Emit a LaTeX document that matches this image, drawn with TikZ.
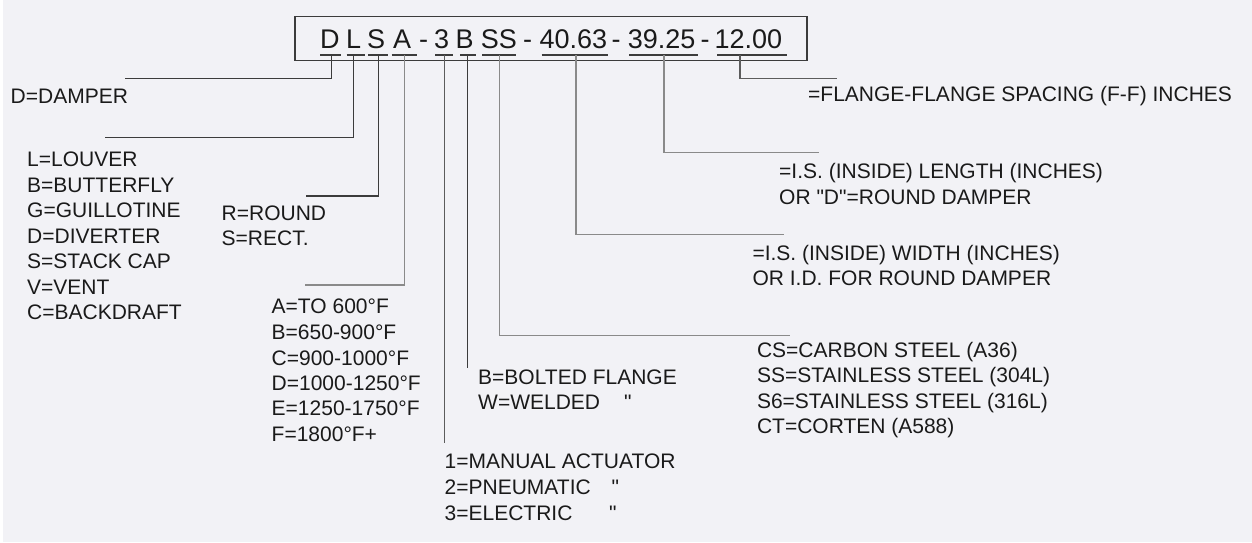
\documentclass[tikz,border=0pt]{standalone}
\usepackage{fontspec}
\setmainfont{Liberation Sans}[Ligatures=TeXOff]
\definecolor{bg}{HTML}{F2F2F6}
\definecolor{txt}{HTML}{1A1A1A}
\definecolor{lnd}{HTML}{3C3C3C}
\definecolor{lnm}{HTML}{5C5C5C}
\definecolor{lng}{HTML}{8A8A8A}
\newcommand{\dq}{\char34\relax}
\begin{document}
\begin{tikzpicture}[x=1pt,y=-1pt,
  lbl/.style={anchor=base west, inner sep=0pt, text=txt, font=\fontsize{21}{25}\selectfont},
  code/.style={anchor=base west, inner sep=0pt, text=txt, font=\fontsize{27}{30}\selectfont},
  dk/.style={draw=lnd, line width=1.3pt},
  md/.style={draw=lnm, line width=1.3pt},
  gy/.style={draw=lng, line width=1.3pt},
  uline/.style={draw=lnd, line width=1.2pt}]
\fill[white] (0,0) rectangle (1252,542);
\fill[bg] (3,0) rectangle (1252,542);
\useasboundingbox (0,0) rectangle (1252,542);

% code box
\draw[draw=lnd, line width=1.2pt] (295,16.8) rectangle (807,60.7);
\node[code] (cD)  at (320,48)   {D};
\node[code] (cL)  at (346,48)   {L};
\node[code] (cS)  at (367,48)   {S};
\node[code] (cA)  at (393,48)   {A};
\node[code] (h1)  at (419,48)   {-};
\node[code] (c3)  at (434,48)   {3};
\node[code] (cB)  at (455.3,48) {B};
\node[code] (cSS) at (480.7,48) {SS};
\node[code] (h2)  at (523,48)   {-};
\node[code] (cW)  at (539.3,48) {40.63};
\node[code] (h3)  at (611.4,48) {-};
\node[code] (cLn) at (627.7,48) {39.25};
\node[code] (h4)  at (700.3,48) {-};
\node[code] (cF)  at (714.4,48) {12.00};

% underlines
\draw[uline] (320,55)--(340.7,55);
\draw[uline] (346.7,55)--(365,55);
\draw[uline] (368.3,55)--(388.3,55);
\draw[uline] (391.7,55)--(417.3,55);
\draw[uline] (435,55)--(453.3,55);
\draw[uline] (460,55)--(475.7,55);
\draw[uline] (482.3,55)--(516,55);
\draw[uline] (541.7,55)--(607.7,55);
\draw[uline] (629.3,55)--(697.7,55);
\draw[uline] (717.3,55)--(786.7,55);

% connector start points
\coordinate (tD)  at (331.7,55);
\coordinate (tL)  at (353.3,55);
\coordinate (tS)  at (378.7,55);
\coordinate (tA)  at (404.3,55);
\coordinate (t3)  at (444.3,55);
\coordinate (tB)  at (467.3,55);
\coordinate (tSS) at (499.3,55);
\coordinate (tW)  at (576,55);
\coordinate (tLn) at (664,55);
\coordinate (tF)  at (740,55);
% connector end points
\coordinate (eD)  at (125,78.3);
\coordinate (eL)  at (105,137.3);
\coordinate (eS)  at (306,196);
\coordinate (eA)  at (305,285);
\coordinate (e3)  at (444.3,443.3);
\coordinate (eB)  at (467.3,368.3);
\coordinate (eSS) at (790,335.7);
\coordinate (eW)  at (784,234.3);
\coordinate (eLn) at (819.3,152.3);
\coordinate (eF)  at (837,78.3);

\draw[dk] (tD) |- (eD);
\draw[dk] (tL) |- (eL);
\draw[dk] (tS) |- (eS);
\draw[gy] (tA) |- (eA);
\draw[md] (t3) -- (e3);
\draw[dk] (tB) -- (eB);
\draw[gy] (tSS) |- (eSS);
\draw[gy] (tW) |- (eW);
\draw[gy] (tLn) |- (eLn);
\draw[md] (tF) |- (eF);

% labels
\node[lbl] (dD) at (10.5,103.3) {D=DAMPER};

\node[lbl] (l1) at (27,166.5) {L=LOUVER};
\node[lbl] (l2) at (27,192)   {B=BUTTERFLY};
\node[lbl] (l3) at (27,217.5) {G=GUILLOTINE};
\node[lbl] (l4) at (27,243)   {D=DIVERTER};
\node[lbl] (l5) at (27,268.5) {S=STACK CAP};
\node[lbl] (l6) at (27,294)   {V=VENT};
\node[lbl] (l7) at (27,319.5) {C=BACKDRAFT};

\node[lbl] (s1) at (221.5,220)   {R=ROUND};
\node[lbl] (s2) at (221.5,245.7) {S=RECT.};

\node[lbl] (a1) at (271.5,313.3) {A=TO 600°F};
\node[lbl] (a2) at (271.5,339.3) {B=650-900°F};
\node[lbl] (a3) at (271.5,365)   {C=900-1000°F};
\node[lbl] (a4) at (271.5,390.5) {D=1000-1250°F};
\node[lbl] (a5) at (271.5,415.5) {E=1250-1750°F};
\node[lbl] (a6) at (271.5,441)   {F=1800°F+};

\node[lbl] (b1) at (478,384.3) {B=BOLTED FLANGE};
\node[lbl] (b2) at (478,409.5) {W=WELDED};
\node[lbl] (b2q) at (624,409.5) {\dq};

\node[lbl] (n1) at (444.5,468.3) {1=MANUAL ACTUATOR};
\node[lbl] (n2) at (444.5,494.5) {2=PNEUMATIC};
\node[lbl] (n2q) at (611.5,494.5) {\dq};
\node[lbl] (n3) at (444.5,520.7) {3=ELECTRIC};
\node[lbl] (n3q) at (609,520.7) {\dq};

\node[lbl] (f1) at (808,101.7) {=FLANGE-FLANGE SPACING (F-F) INCHES};

\node[lbl] (g1) at (779,178.5) {=I.S. (INSIDE) LENGTH (INCHES)};
\node[lbl] (g2) at (779,204)   {OR \dq D\dq=ROUND DAMPER};

\node[lbl] (w1) at (752.3,260) {=I.S. (INSIDE) WIDTH (INCHES)};
\node[lbl] (w2) at (752.3,285) {OR I.D. FOR ROUND DAMPER};

\node[lbl] (m1) at (756.8,357)   {CS=CARBON STEEL (A36)};
\node[lbl] (m2) at (756.8,382.7) {SS=STAINLESS STEEL (304L)};
\node[lbl] (m3) at (756.8,408.3) {S6=STAINLESS STEEL (316L)};
\node[lbl] (m4) at (756.8,433.3) {CT=CORTEN (A588)};
\end{tikzpicture}
\end{document}
